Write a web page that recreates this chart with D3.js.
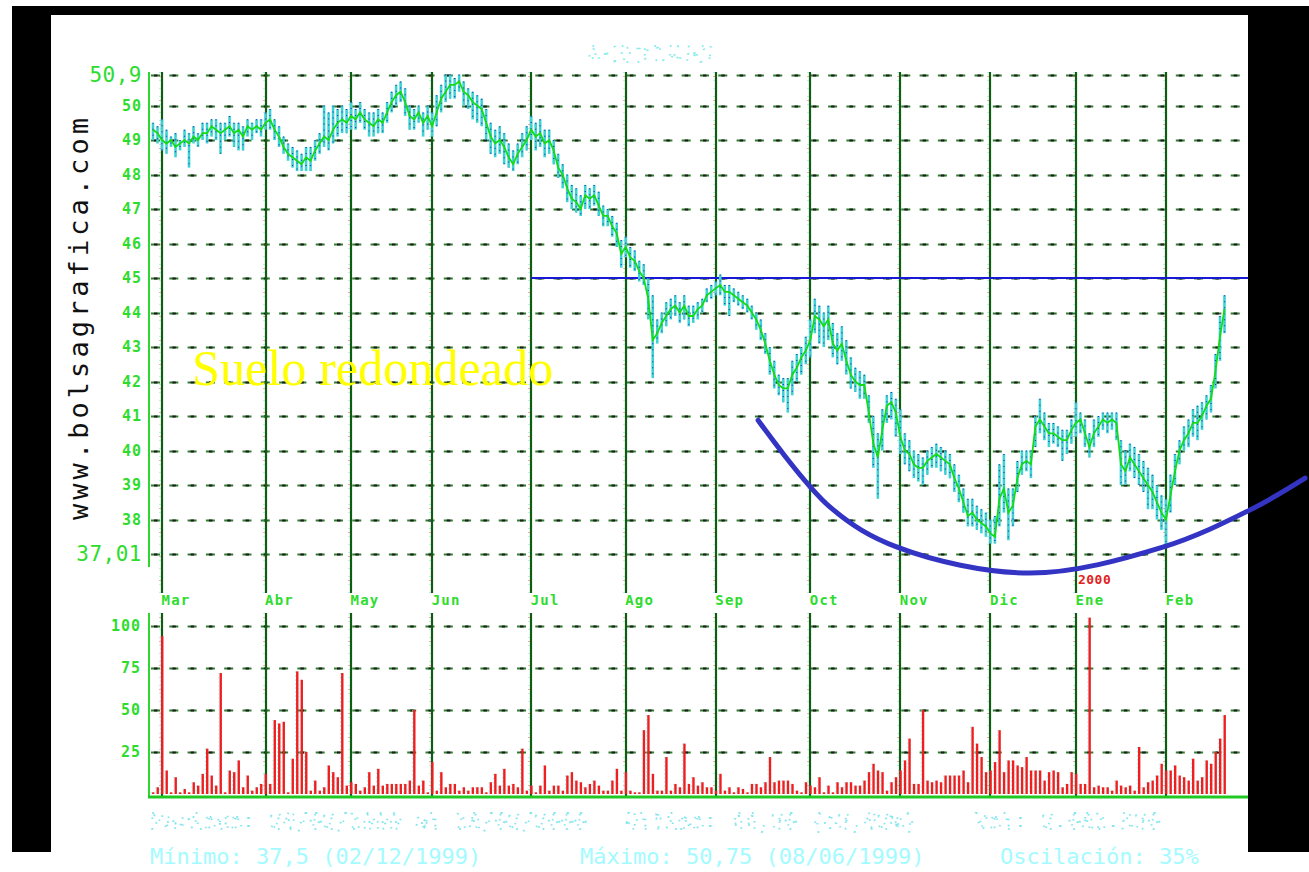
<!DOCTYPE html>
<html><head><meta charset="utf-8">
<script src="https://cdn.jsdelivr.net/npm/d3@7"></script>
<style>html,body{margin:0;padding:0;background:#fff;} svg{display:block}</style>
</head><body><svg id="c" width="1309" height="872"></svg>
<script>
// ---------- data ----------
const months = ["Mar","Abr","May","Jun","Jul","Ago","Sep","Oct","Nov","Dic","Ene","Feb"];
const monthStart = [2,25,44,62,84,105,125,146,166,186,205,225];
const yearMark = {label:"2000", at:205};
const priceTicks = [50.9,50,49,48,47,46,45,44,43,42,41,40,39,38,37.01];
const volumeTicks = [25,50,75,100];

const closes = [
49.3,49.2,49.0,48.9,49.0,48.8,48.9,49.0,48.9,49.1,
49.0,49.2,49.2,49.4,49.3,49.2,49.3,49.4,49.2,49.3,
49.1,49.4,49.3,49.4,49.3,49.5,49.6,49.3,49.1,48.8,
48.6,48.5,48.4,48.3,48.5,48.4,48.7,48.9,49.1,49.0,
49.3,49.5,49.6,49.5,49.7,49.6,49.8,49.6,49.5,49.4,
49.6,49.5,49.8,50.1,50.3,50.4,50.1,49.7,49.6,49.8,
49.5,49.7,49.4,49.8,50.2,50.4,50.6,50.6,50.7,50.4,
50.3,50.1,50.0,49.9,49.5,49.1,48.9,49.0,48.8,48.5,
48.3,48.6,48.8,49.0,49.3,49.1,49.2,48.9,49.0,48.7,
48.2,48.0,47.6,47.3,47.2,47.0,47.4,47.3,47.4,47.1,
46.8,46.8,46.5,46.3,45.7,45.9,45.6,45.5,45.2,45.0,
44.4,43.2,43.4,43.7,43.9,44.1,44.2,44.0,44.2,43.9,
43.9,44.1,44.2,44.5,44.6,44.7,44.8,44.6,44.6,44.5,
44.4,44.3,44.2,44.0,43.8,43.5,43.1,42.6,42.2,41.9,
41.8,41.8,42.2,42.4,42.7,42.9,43.2,43.9,43.8,43.6,
43.8,43.1,42.9,43.1,42.6,42.2,42.0,41.9,41.9,41.1,
40.2,39.8,40.6,41.3,41.4,41.1,40.4,40.0,39.9,39.6,
39.5,39.5,39.7,39.8,39.9,39.8,39.7,39.6,39.2,38.9,
38.5,38.1,38.2,38.0,37.9,37.8,37.6,37.5,38.6,38.9,
38.2,38.4,39.2,39.6,39.7,39.6,40.7,40.9,40.7,40.5,
40.5,40.4,40.3,40.3,40.6,40.8,40.9,40.5,40.1,40.5,
40.7,40.9,40.8,40.9,40.8,39.6,39.4,39.8,39.6,39.4,
39.2,39.0,38.8,38.5,38.2,38.0,38.7,39.4,40.0,40.3,
40.5,40.8,40.8,41.0,41.3,41.5,42.3,43.3,44.1];

const highs = [
49.5,49.4,49.6,49.3,49.1,49.2,49.0,49.3,49.2,49.4,
49.2,49.5,49.5,49.6,49.6,49.5,49.5,49.7,49.5,49.5,
49.4,49.6,49.5,49.6,49.6,49.8,49.9,49.6,49.4,49.1,
48.9,48.8,48.7,48.6,48.8,48.8,49.0,49.2,50.0,49.8,
50.0,49.9,50.0,49.9,50.1,49.9,50.1,49.9,49.8,49.8,
49.9,49.8,50.1,50.4,50.6,50.7,50.5,50.0,49.9,50.0,
49.8,50.0,49.8,50.3,50.6,50.9,50.9,50.8,50.9,50.7,
50.5,50.4,50.3,50.2,49.9,49.5,49.3,49.4,49.2,48.9,
48.7,48.9,49.2,49.4,49.7,49.5,49.6,49.3,49.3,49.0,
48.6,48.3,48.0,47.7,47.6,47.4,47.7,47.6,47.7,47.5,
47.1,47.0,46.8,46.6,46.1,46.2,45.9,45.8,45.5,45.4,
45.0,44.5,43.8,44.0,44.3,44.4,44.5,44.3,44.5,44.2,
44.2,44.3,44.4,44.7,44.8,44.9,45.1,44.8,44.8,44.7,
44.6,44.5,44.4,44.2,44.0,43.8,43.4,43.0,42.6,42.2,
42.1,42.1,42.6,42.8,43.0,43.3,43.8,44.4,44.2,44.0,
44.2,43.7,43.4,43.6,43.2,42.7,42.4,42.3,42.2,41.6,
41.0,40.5,41.2,41.6,41.7,41.5,41.2,40.5,40.3,40.0,
39.9,39.8,40.0,40.1,40.2,40.1,40.0,39.9,39.6,39.3,
38.9,38.6,38.6,38.4,38.3,38.2,38.0,38.1,39.6,39.9,
38.9,38.9,39.7,40.0,40.0,40.0,41.0,41.5,41.1,40.8,
40.8,40.7,40.6,40.6,40.9,41.4,41.1,40.9,40.5,40.9,
41.0,41.1,41.1,41.1,41.1,40.3,40.0,40.2,40.1,39.9,
39.7,39.5,39.3,39.0,38.7,38.6,39.3,39.9,40.3,40.7,
40.9,41.2,41.3,41.4,41.6,41.9,42.8,43.9,44.5];

const lows = [
49.0,48.9,48.7,48.6,48.8,48.5,48.7,48.8,48.2,48.9,
48.8,49.0,48.9,49.1,49.0,48.6,49.0,49.1,48.8,48.7,
48.7,49.1,49.0,49.2,49.1,49.3,49.3,49.0,48.8,48.6,
48.4,48.2,48.1,48.1,48.1,48.1,48.4,48.6,48.8,48.7,
48.9,49.1,49.2,49.2,49.3,49.3,49.5,49.3,49.1,49.1,
49.2,49.2,49.5,49.8,50.0,50.1,49.7,49.3,49.3,49.5,
49.1,49.3,49.1,49.4,49.8,50.1,50.2,50.2,50.4,50.0,
49.9,49.6,49.5,49.4,49.0,48.6,48.5,48.6,48.3,48.2,
48.1,48.3,48.5,48.7,49.0,48.7,48.8,48.5,48.6,48.3,
47.9,47.6,47.2,47.0,46.9,46.8,47.0,47.0,47.1,46.8,
46.5,46.5,46.2,45.9,45.3,45.6,45.3,45.2,44.9,44.8,
43.8,42.1,43.1,43.4,43.6,43.8,43.9,43.7,43.8,43.6,
43.7,43.8,44.0,44.3,44.4,44.5,44.5,44.2,43.9,44.3,
44.2,44.1,44.0,43.8,43.5,43.2,42.8,42.2,41.8,41.6,
41.4,41.1,41.6,42.0,42.2,42.5,42.7,43.4,43.1,43.0,
43.2,42.7,42.5,42.6,42.2,41.8,41.7,41.5,41.5,40.8,
39.5,38.6,40.0,40.8,40.9,40.4,39.9,39.6,39.4,39.2,
39.1,39.0,39.3,39.5,39.5,39.4,39.3,39.2,38.8,38.5,
38.2,37.8,37.8,37.7,37.6,37.5,37.3,37.3,37.8,38.2,
37.4,37.8,38.8,39.3,39.4,39.2,40.1,40.5,40.3,40.1,
40.2,40.1,39.7,39.9,40.2,40.4,40.5,40.1,39.8,40.1,
40.4,40.6,40.5,40.6,40.3,39.0,39.0,39.4,39.2,39.0,
38.8,38.3,38.3,38.0,37.7,37.2,38.2,39.0,39.6,40.0,
40.1,40.4,40.3,40.6,40.9,41.1,41.8,42.6,43.4];

const volumes = [
1,4,94,14,1,10,1,3,1,7,
5,12,27,11,5,72,1,14,13,20,
4,11,2,4,6,12,6,44,42,43,
1,21,73,68,25,2,8,2,4,17,
13,10,72,5,7,6,2,4,13,5,
15,5,6,6,6,6,6,8,50,5,
8,1,19,2,13,4,6,6,2,4,
2,4,4,4,1,7,12,5,15,5,
6,4,27,2,5,1,5,17,2,5,
5,2,11,13,8,7,4,6,8,5,
2,2,8,15,2,13,2,1,1,38,
47,12,2,2,22,2,6,4,30,6,
10,5,7,4,4,2,12,2,4,1,
4,3,1,6,6,4,7,22,7,8,
8,8,6,2,1,7,5,4,10,1,
5,1,7,4,7,7,5,5,8,13,
18,14,13,2,7,10,14,20,33,6,
6,50,8,7,8,7,11,11,11,11,
14,7,40,30,22,13,14,19,38,13,
20,20,17,16,22,14,14,14,8,13,
14,13,4,6,13,12,6,6,105,4,
5,4,4,2,8,5,4,5,2,28,
4,7,8,11,18,14,14,17,11,10,
8,21,8,10,20,18,25,33,47];

const resistanceLevel = 45;
const resistanceFrom = 84;
// hand-drawn "rounded bottom" annotation, in (day index, price)
const arcPoints = [[134.4,40.88],[150.4,38.36],[165.3,37.2],[194.8,36.45],[224.3,37.2],[243.7,38.28],[255.9,39.2]];
const annotation = "Suelo redondeado";
const watermark = "www.bolsagrafica.com";
const titleText = "ACERINOX";
const footer1 = [["Periodo: 26/02/1999 al 18/02/2000",150],["Ultimo: 44,30 (+3,62%)",625],["Vol: 2.081.530",975]];
const footer2 = [["Mínimo: 37,5 (02/12/1999)",150],["Máximo: 50,75 (08/06/1999)",580],["Oscilación: 35%",1000]];

// ---------- layout ----------
const svg = d3.select("#c");
const W = 1309, H = 872;
const plotL = 149, plotR = 1248;

svg.append("rect").attr("width",W).attr("height",H).attr("fill","#fff");
svg.append("rect").attr("x",12).attr("y",6).attr("width",W-12).attr("height",846).attr("fill","#000");
svg.append("rect").attr("x",51).attr("y",15).attr("width",1197).attr("height",H-15).attr("fill","#fff");

const x = d3.scaleLinear().domain([0,238]).range([153,1224.5]);
const y = d3.scaleLinear().domain([37.01,50.9]).range([553.7,74.5]);
const yv = d3.scaleLinear().domain([0,100]).range([794,626]);

function dashedRow(g, yy){
  g.append("line").attr("x1",plotL+2).attr("x2",plotR).attr("y1",yy).attr("y2",yy)
    .attr("stroke","#2f7d2f").attr("stroke-width",2.2).attr("stroke-dasharray","9 9.3");
  g.append("line").attr("x1",plotL+2).attr("x2",plotR).attr("y1",yy).attr("y2",yy)
    .attr("stroke","#1d1d1d").attr("stroke-width",2.2).attr("stroke-dasharray","3.5 14.8").attr("stroke-dashoffset",-3);
}

// grids
const grid = svg.append("g");
priceTicks.forEach(t => dashedRow(grid, Math.round(y(t))+0.5));
volumeTicks.forEach(t => dashedRow(grid, Math.round(yv(t))+0.5));

// month lines
const ml = svg.append("g");
monthStart.forEach(m => {
  const xx = Math.round(x(m));
  [[72,593],[613,797]].forEach(([a,b]) => {
    ml.append("line").attr("x1",xx).attr("x2",xx).attr("y1",a).attr("y2",b)
      .attr("stroke","#0e5e12").attr("stroke-width",2.2);
    ml.append("line").attr("x1",xx-2).attr("x2",xx-2).attr("y1",a).attr("y2",b)
      .attr("stroke","#5fd8d8").attr("stroke-width",1).attr("stroke-dasharray","1 7").attr("opacity",0.8);
    ml.append("line").attr("x1",xx-2).attr("x2",xx-2).attr("y1",a+4).attr("y2",b)
      .attr("stroke","#e83030").attr("stroke-width",1).attr("stroke-dasharray","1 23").attr("opacity",0.8);
  });
});

// left axis lines
svg.append("line").attr("x1",plotL).attr("x2",plotL).attr("y1",72).attr("y2",567).attr("stroke","#2ed62e").attr("stroke-width",2);
svg.append("line").attr("x1",plotL).attr("x2",plotL).attr("y1",613).attr("y2",797).attr("stroke","#2ed62e").attr("stroke-width",2);

// y axis labels (price)
const ay = svg.append("g").attr("transform",`translate(${plotL},0)`)
  .call(d3.axisLeft(y).tickValues(priceTicks).tickSize(0).tickPadding(7)
    .tickFormat(d => (Number.isInteger(d) ? d3.format("d")(d) : String(d).replace(".",","))));
ay.select(".domain").remove();
ay.selectAll("text").attr("fill","#2edc2e")
  .attr("font-family","DejaVu Sans Mono, monospace")
  .each(function(d){
    const s = d3.select(this);
    if (Number.isInteger(d)) s.attr("font-size",15).attr("font-weight","bold").attr("letter-spacing",1);
    else s.attr("font-size",21).attr("font-weight","normal").attr("letter-spacing",0.5);
  });

// volume axis labels
const av = svg.append("g").attr("transform",`translate(${plotL},0)`)
  .call(d3.axisLeft(yv).tickValues(volumeTicks).tickSize(0).tickPadding(8));
av.select(".domain").remove();
av.selectAll("text").attr("fill","#2edc2e").attr("font-family","DejaVu Sans Mono, monospace")
  .attr("font-size",15).attr("font-weight","bold").attr("letter-spacing",1);

// month axis
const ax = svg.append("g").attr("transform","translate(0,592)")
  .call(d3.axisBottom(x).tickValues(monthStart).tickSize(0).tickPadding(3).tickFormat((d,i)=>months[i]));
ax.select(".domain").remove();
ax.selectAll("text").attr("text-anchor","start").attr("x",-1).attr("fill","#2edc2e")
  .attr("font-family","DejaVu Sans Mono, monospace").attr("font-size",14).attr("font-weight","bold").attr("letter-spacing",1.2);
svg.append("text").attr("x",x(yearMark.at)+2).attr("y",584).text(yearMark.label)
  .attr("fill","#e02222").attr("font-family","DejaVu Sans Mono, monospace").attr("font-size",13).attr("font-weight","bold").attr("letter-spacing",0.5);

// watermark
svg.append("text").attr("transform","translate(88,319) rotate(-90)").attr("text-anchor","middle")
  .attr("font-family","DejaVu Sans Mono, monospace").attr("font-size",27).attr("fill","#111")
  .attr("textLength",402).attr("lengthAdjust","spacing").text(watermark);

// resistance line
svg.append("line").attr("x1",x(resistanceFrom)).attr("x2",plotR).attr("y1",y(resistanceLevel)).attr("y2",y(resistanceLevel))
  .attr("stroke","#1818d8").attr("stroke-width",2);

// annotation text
svg.append("text").attr("x",192).attr("y",385).attr("font-family","Liberation Serif, Times New Roman, serif")
  .attr("font-size",50).attr("fill","#ffff00").attr("textLength",361).text(annotation);

// price hi-lo bars
const idx = d3.range(closes.length);
svg.append("g").selectAll("line").data(idx).join("line")
  .attr("x1",i=>x(i)).attr("x2",i=>x(i)).attr("y1",i=>y(highs[i])).attr("y2",i=>y(lows[i]))
  .attr("stroke","#3ed2d2").attr("stroke-width",2.6);
svg.append("g").selectAll("line").data(idx).join("line")
  .attr("x1",i=>x(i)).attr("x2",i=>x(i)).attr("y1",i=>y(highs[i])).attr("y2",i=>y(lows[i]))
  .attr("stroke","#1a3fbf").attr("stroke-width",1.2).attr("stroke-dasharray","1 5");
// close line
svg.append("path").datum(idx).attr("fill","none").attr("stroke","#14dc14").attr("stroke-width",1.8)
  .attr("d", d3.line().x(i=>x(i)).y(i=>y(closes[i])));

// volume bars
svg.append("g").selectAll("rect").data(idx).join("rect")
  .attr("x",i=>x(i)-1).attr("width",2.4).attr("y",i=>yv(volumes[i])).attr("height",i=>yv(0)-yv(volumes[i]))
  .attr("fill","#f01e1e");
svg.append("g").selectAll("line").data(idx).join("line")
  .attr("x1",i=>x(i)-1.6).attr("x2",i=>x(i)-1.6).attr("y1",i=>yv(volumes[i])).attr("y2",yv(0))
  .attr("stroke","#7fe6e6").attr("stroke-width",0.9).attr("stroke-dasharray","1.5 2.5").attr("opacity",0.8);
// volume baseline
svg.append("line").attr("x1",plotL-1).attr("x2",plotR).attr("y1",797).attr("y2",797).attr("stroke","#22c822").attr("stroke-width",3);

// title (faint dotted)
svg.append("text").attr("x",652).attr("y",62).attr("text-anchor","middle")
  .attr("font-family","DejaVu Sans Mono, monospace").attr("font-size",22).attr("letter-spacing",3)
  .attr("fill","none").attr("stroke","#86ecec").attr("stroke-width",2).attr("stroke-dasharray","1.5 13").text(titleText);

// footers
footer1.forEach(([t,xx]) => svg.append("text").attr("x",xx).attr("y",829)
  .attr("font-family","DejaVu Sans Mono, monospace").attr("font-size",22).attr("fill","none")
  .attr("stroke","#7ee6ee").attr("stroke-width",1.8).attr("stroke-dasharray","1.5 9").text(t));
footer2.forEach(([t,xx]) => svg.append("text").attr("x",xx).attr("y",864)
  .attr("font-family","DejaVu Sans Mono, monospace").attr("font-size",22).attr("fill","#a4fbff").text(t));

// rounded-bottom arc annotation
svg.append("path").datum(arcPoints).attr("fill","none").attr("stroke","#3434c4").attr("stroke-width",5)
  .attr("stroke-linecap","round")
  .attr("d", d3.line().curve(d3.curveCatmullRom).x(d=>x(d[0])).y(d=>y(d[1])));
</script></body></html>
